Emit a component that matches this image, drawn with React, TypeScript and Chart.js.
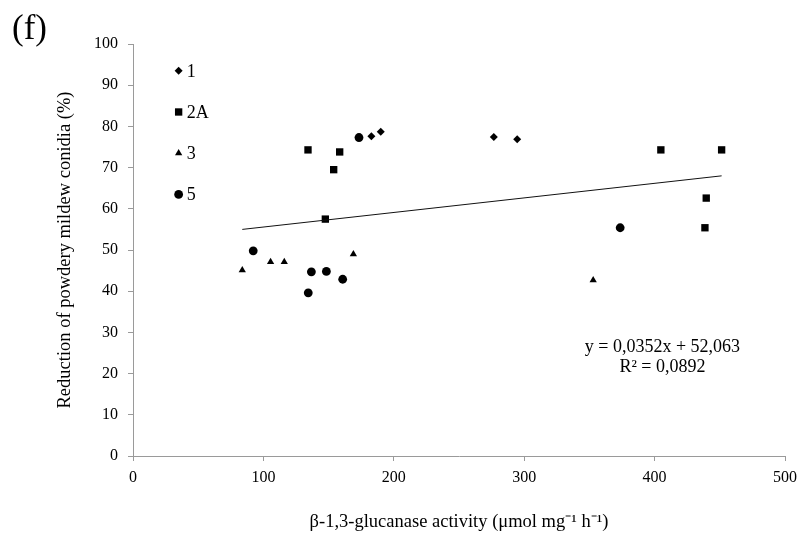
import React, { useEffect, useRef } from 'react';
import { Chart, registerables } from 'chart.js';

Chart.register(...registerables);

const SERIF = "'Liberation Serif', 'Times New Roman', serif";

// Data (x: β-1,3-glucanase activity, y: reduction %)
const seriesLabels = ['1', '2A', '3', '5'];
const series1X = [182.8, 190.0, 276.7, 294.6];
const series1Y = [77.6, 78.7, 77.4, 76.9];
const series2AX = [134.2, 147.5, 153.9, 158.5, 404.8, 438.6, 439.6, 451.4];
const series2AY = [74.3, 57.5, 69.5, 73.8, 74.3, 55.4, 62.6, 74.3];
const series3X = [83.8, 105.5, 116.0, 169.0, 352.9];
const series3Y = [45.1, 47.1, 47.1, 49.0, 42.7];
const series5X = [92.2, 134.4, 136.8, 148.3, 160.8, 173.3, 373.6];
const series5Y = [49.8, 39.6, 44.7, 44.8, 42.9, 77.3, 55.4];
const trendX = [83.8, 451.4];
const trendY = [55.0, 68.0];

const xTickValues = [0, 100, 200, 300, 400, 500];
const yTickValues = [0, 10, 20, 30, 40, 50, 60, 70, 80, 90, 100];

const equationLines = ['y = 0,0352x + 52,063', 'R² = 0,0892'];
const equationAnchor = { x: 406, y: 26.3 };
const legendAnchor = { x: 35, yTop: 93.5, step: 10 };

const pointStyles = ['rectRot', 'rect', 'triangle', 'circle'];
const pointRadii = [4, 5.2, 4.2, 4.4];

const toPoints = (xs: number[], ys: number[]) => xs.map((x, i) => ({ x, y: ys[i] }));

const overlayPlugin = {
  id: 'overlay',
  afterDraw(chart: any) {
    const { ctx, scales } = chart;
    const xs = scales.x;
    const ys = scales.y;
    ctx.save();
    ctx.font = `18px ${SERIF}`;
    ctx.fillStyle = '#000';
    ctx.textBaseline = 'middle';
    ctx.textAlign = 'left';
    seriesLabels.forEach((lab, i) => {
      const px = xs.getPixelForValue(legendAnchor.x);
      const py = ys.getPixelForValue(legendAnchor.yTop - i * legendAnchor.step);
      const st = pointStyles[i];
      ctx.beginPath();
      const r = pointRadii[i];
      if (st === 'circle') {
        ctx.arc(px, py, r, 0, Math.PI * 2);
      } else if (st === 'rect') {
        const s = r * Math.SQRT1_2;
        ctx.rect(px - s, py - s, 2 * s, 2 * s);
      } else if (st === 'rectRot') {
        ctx.moveTo(px - r, py);
        ctx.lineTo(px, py - r);
        ctx.lineTo(px + r, py);
        ctx.lineTo(px, py + r);
        ctx.closePath();
      } else if (st === 'triangle') {
        ctx.moveTo(px, py - r);
        ctx.lineTo(px + r * Math.sin(Math.PI * 2 / 3), py - r * Math.cos(Math.PI * 2 / 3));
        ctx.lineTo(px + r * Math.sin(Math.PI * 4 / 3), py - r * Math.cos(Math.PI * 4 / 3));
        ctx.closePath();
      }
      ctx.fill();
      ctx.fillText(lab, px + 8, py + 1);
    });
    ctx.textAlign = 'center';
    const ex = xs.getPixelForValue(equationAnchor.x);
    const ey = ys.getPixelForValue(equationAnchor.y);
    equationLines.forEach((t, i) => {
      ctx.fillText(t, ex, ey + i * 20);
    });
    ctx.restore();
  },
};

export default function App() {
  const ref = useRef<HTMLCanvasElement | null>(null);

  useEffect(() => {
    if (!ref.current) return;
    const ds = [
      [series1X, series1Y],
      [series2AX, series2AY],
      [series3X, series3Y],
      [series5X, series5Y],
    ].map(([xs, ys], i) => ({
      type: 'scatter' as const,
      label: seriesLabels[i],
      data: toPoints(xs, ys),
      pointStyle: pointStyles[i],
      pointRadius: pointRadii[i],
      pointBackgroundColor: '#000',
      pointBorderColor: '#000',
      pointBorderWidth: 0,
      showLine: false,
    }));
    const chart = new Chart(ref.current, {
      type: 'scatter',
      data: {
        datasets: [
          {
            type: 'line' as const,
            label: 'Linear',
            data: toPoints(trendX, trendY),
            borderColor: '#111',
            borderWidth: 1,
            pointRadius: 0,
            fill: false,
          } as any,
          ...ds,
        ],
      },
      options: {
        animation: false,
        responsive: false,
        layout: { padding: { top: 44, right: 19, left: 0, bottom: 0 } },
        plugins: {
          legend: { display: false },
          tooltip: { enabled: false },
        },
        scales: {
          x: {
            type: 'linear',
            min: 0,
            max: 500,
            afterFit: (s: any) => { s.height = 80; },
            afterBuildTicks: (s: any) => { s.ticks = xTickValues.map((v) => ({ value: v })); },
            ticks: { color: '#000', font: { family: SERIF, size: 16 }, padding: 7 },
            grid: { drawOnChartArea: false, color: '#9a9a9a', tickLength: 5 },
            border: { color: '#9a9a9a', width: 1 },
            title: {
              display: true,
              text: 'β-1,3-glucanase activity (μmol mg⁻¹ h⁻¹)',
              color: '#000',
              font: { family: SERIF, size: 18.5 },
              padding: { top: 0, bottom: 3 },
            },
          },
          y: {
            type: 'linear',
            min: 0,
            max: 100,
            afterFit: (s: any) => { s.width = 133; },
            afterBuildTicks: (s: any) => { s.ticks = yTickValues.map((v) => ({ value: v })); },
            ticks: { color: '#000', font: { family: SERIF, size: 16 }, padding: 10 },
            grid: { drawOnChartArea: false, color: '#9a9a9a', tickLength: 5 },
            border: { color: '#9a9a9a', width: 1 },
            title: {
              display: true,
              text: 'Reduction of powdery mildew conidia (%)',
              color: '#000',
              font: { family: SERIF, size: 18.5 },
              padding: { top: 54, bottom: 0 },
            },
          },
        },
      },
      plugins: [overlayPlugin],
    } as any);
    return () => chart.destroy();
  }, []);

  return (
    <div style={{ position: 'fixed', left: 0, top: 0, width: 804, height: 536, background: '#fff' }}>
      <canvas ref={ref} width={804} height={536} style={{ display: 'block' }} />
      <div
        style={{
          position: 'absolute',
          left: 12,
          top: 10,
          fontFamily: SERIF,
          fontSize: 35,
          lineHeight: '35px',
          color: '#000',
        }}
      >
        (f)
      </div>
    </div>
  );
}
